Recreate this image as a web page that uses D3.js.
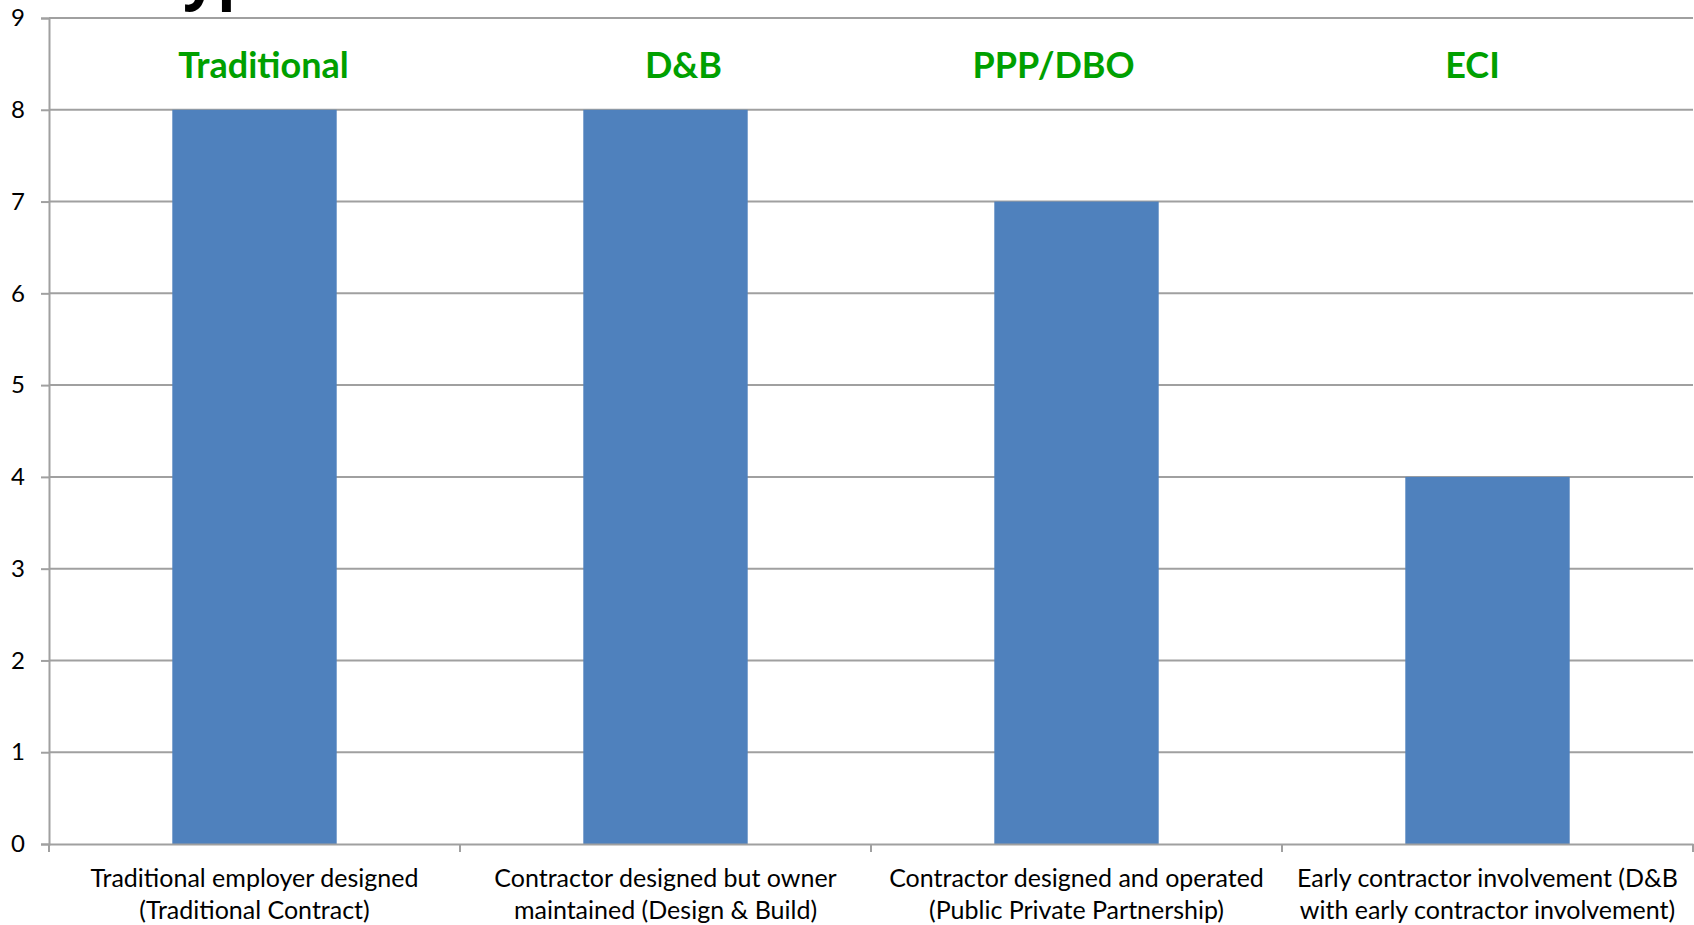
<!DOCTYPE html>
<html>
<head>
<meta charset="utf-8">
<script src="https://cdn.jsdelivr.net/npm/d3@7"></script>
<style>
  html, body { margin: 0; padding: 0; background: #fff; overflow: hidden; }
  svg { display: block; }
</style>
</head>
<body>
<svg id="chart" width="1694" height="925"></svg>
<script>
const categories = [
  ["Traditional employer designed", "(Traditional Contract)"],
  ["Contractor designed but owner", "maintained (Design & Build)"],
  ["Contractor designed and operated", "(Public Private Partnership)"],
  ["Early contractor involvement (D&B", "with early contractor involvement)"]
];
const values = [8, 8, 7, 4];
const shortLabels = ["Traditional", "D&B", "PPP/DBO", "ECI"];
const shortLabelOffsets = [9, 18, -23, -15];
const yTicks = [0, 1, 2, 3, 4, 5, 6, 7, 8, 9];

const W = 1694, H = 925;
const margin = { left: 49, right: 1, top: 18, bottom: 81 };
const svg = d3.select("#chart");
const font = "Lato, 'Open Sans', sans-serif";
const gridColor = "#a0a0a0";

const x = d3.scaleBand()
  .domain(d3.range(categories.length))
  .range([margin.left, W - margin.right])
  .padding(0);
const y = d3.scaleLinear()
  .domain([0, 9])
  .range([H - margin.bottom, margin.top]);

// clipped title (only descenders visible at the top edge, as in the reference)
svg.append("text")
  .attr("x", 157).attr("y", -3)
  .attr("font-family", "'Open Sans', sans-serif")
  .attr("font-weight", "bold")
  .attr("font-size", 60)
  .attr("fill", "#000")
  .text("types");

// gridlines
svg.append("g")
  .selectAll("line")
  .data(yTicks.filter(d => d > 0))
  .join("line")
  .attr("x1", margin.left).attr("x2", W - margin.right)
  .attr("y1", d => y(d)).attr("y2", d => y(d))
  .attr("stroke", gridColor).attr("stroke-width", 2);

// bars
const barW = x.bandwidth() * 0.4;
svg.append("g")
  .selectAll("rect")
  .data(values)
  .join("rect")
  .attr("x", (d, i) => x(i) + (x.bandwidth() - barW) / 2)
  .attr("width", barW)
  .attr("y", d => y(d))
  .attr("height", d => y(0) - y(d))
  .attr("fill", "#4f81bd");

// y axis
const yAxis = svg.append("g")
  .attr("transform", `translate(${margin.left},0)`)
  .call(d3.axisLeft(y).tickValues(yTicks).tickSize(8).tickPadding(16).tickFormat(d3.format("d")));
yAxis.select(".domain").attr("stroke", gridColor).attr("stroke-width", 2);
yAxis.selectAll(".tick line").attr("stroke", gridColor).attr("stroke-width", 2);
yAxis.selectAll(".tick text")
  .attr("font-family", font).attr("font-size", 24).attr("fill", "#000");

// x axis
const xAxis = svg.append("g")
  .attr("transform", `translate(0,${y(0)})`)
  .call(d3.axisBottom(x).tickSize(0).tickFormat(""));
xAxis.select(".domain").attr("stroke", gridColor).attr("stroke-width", 2);
xAxis.selectAll(".tick").remove();
const boundaries = d3.range(categories.length + 1).map(i => i === categories.length ? x.range()[1] : x(i));
svg.append("g")
  .selectAll("line")
  .data(boundaries)
  .join("line")
  .attr("x1", d => d).attr("x2", d => d)
  .attr("y1", y(0)).attr("y2", y(0) + 8)
  .attr("stroke", gridColor).attr("stroke-width", 2);

// category labels
const lab = svg.append("g")
  .selectAll("text")
  .data(categories)
  .join("text")
  .attr("text-anchor", "middle")
  .attr("font-family", font)
  .attr("font-size", 25)
  .attr("fill", "#000");
lab.selectAll("tspan")
  .data((d, i) => d.map(t => ({ t, i })))
  .join("tspan")
  .attr("x", d => x(d.i) + x.bandwidth() / 2)
  .attr("y", (d, j) => 887 + j * 32)
  .text(d => d.t);

// green short labels
svg.append("g")
  .selectAll("text")
  .data(shortLabels)
  .join("text")
  .attr("x", (d, i) => x(i) + x.bandwidth() / 2 + shortLabelOffsets[i])
  .attr("y", 78)
  .attr("text-anchor", "middle")
  .attr("font-family", font)
  .attr("font-weight", "bold")
  .attr("font-size", 36)
  .attr("fill", "#00a000")
  .text(d => d);
</script>
</body>
</html>
